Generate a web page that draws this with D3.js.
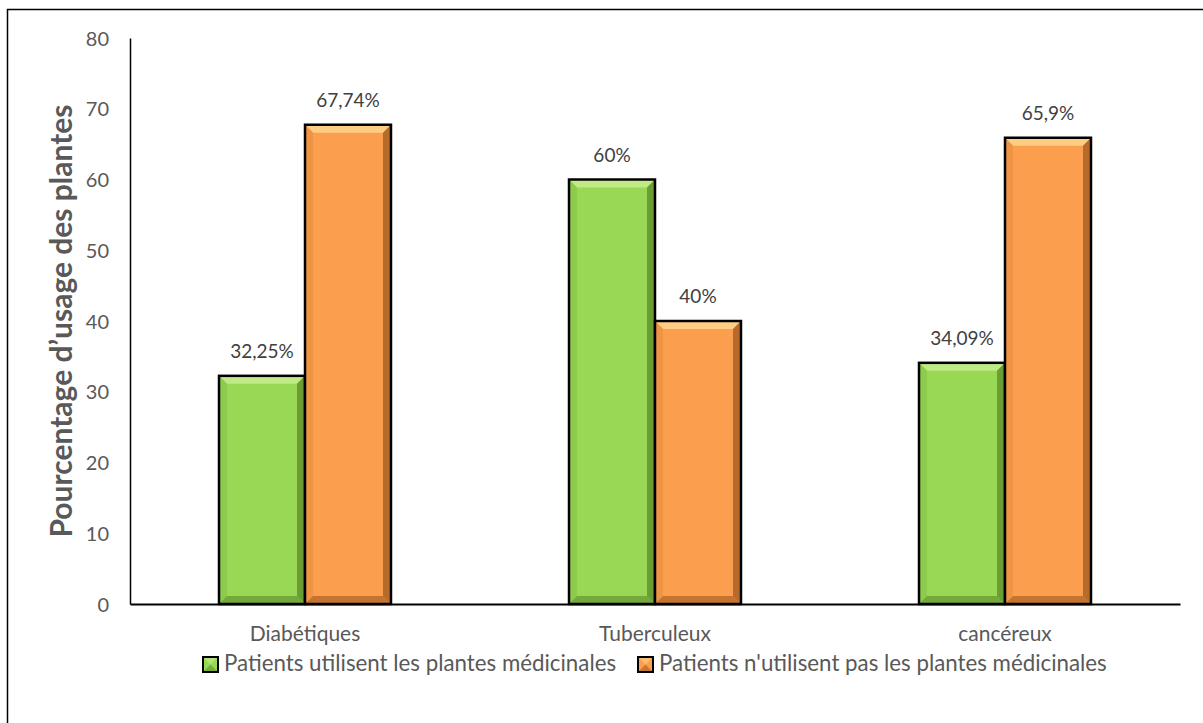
<!DOCTYPE html>
<html><head><meta charset="utf-8">
<script src="https://cdn.jsdelivr.net/npm/d3@7"></script>
<style>body{margin:0;background:#fff}svg{display:block}text{font-family:Lato,"Open Sans",sans-serif}</style>
</head><body>
<svg id="c" width="1203" height="723"></svg>
<script>
const categories = ["Diabétiques", "Tuberculeux", "cancéreux"];
const seriesNames = ["Patients utilisent les plantes médicinales", "Patients n'utilisent pas les plantes médicinales"];
const usersValues = [32.25, 60, 34.09];
const nonUsersValues = [67.74, 40, 65.9];
const usersLabels = ["32,25%", "60%", "34,09%"];
const nonUsersLabels = ["67,74%", "40%", "65,9%"];
const yTicks = [0, 10, 20, 30, 40, 50, 60, 70, 80];
const yTitle = "Pourcentage d’usage des plantes";

(function(){
const svg = d3.select("#c");
svg.append("rect").attr("x", 7.5).attr("y", 9.5).attr("width", 1210).attr("height", 730)
  .attr("fill", "none").attr("stroke", "#000").attr("stroke-width", 1.5);

const pL = 130, pR = 1180, pT = 38, pB = 604;
const x = d3.scaleBand().domain(categories).range([pL, pR]).padding(0);
const xs = d3.scaleBand().domain([0, 1]).range([0, x.bandwidth()]).paddingInner(0).paddingOuter(1.035);
const y = d3.scaleLinear().domain([0, 80]).range([pB, pT]);

const textCol = "#595959";
const yAxis = svg.append("g").attr("transform", `translate(${pL},0)`)
  .call(d3.axisLeft(y).tickValues(yTicks).tickSize(0).tickPadding(0).tickFormat(d3.format("d")));
yAxis.select(".domain").attr("stroke", "#000").attr("stroke-width", 1.5);
yAxis.selectAll("text").attr("font-size", 20).attr("fill", textCol).attr("x", -21).attr("text-anchor", "end").attr("dy", "0.35em");

svg.append("text").attr("transform", `translate(72,${(pT+pB)/2}) rotate(-90)`)
  .attr("text-anchor", "middle").attr("font-size", 30).attr("font-weight", "bold").attr("fill", textCol)
  .text(yTitle);

const palettes = [
  {base: "#98d855", light: "#c3ec8c", dark: "#5f8f2c", mid: "#8ccb4c"},
  {base: "#fb9f4f", light: "#ffd08a", dark: "#a65e20", mid: "#ef9444"}
];

const data = categories.map((c, i) => ({c, vals: [usersValues[i], nonUsersValues[i]], labels: [usersLabels[i], nonUsersLabels[i]]}));
const bevel = 8;
data.forEach(d => {
  d.vals.forEach((v, s) => {
    const x0 = x(d.c) + xs(s), w = xs.bandwidth();
    const y0 = y(v), h = y(0) - y(v);
    const p = palettes[s];
    const g = svg.append("g");
    g.append("rect").attr("x", x0).attr("y", y0).attr("width", w).attr("height", h).attr("fill", p.base);
    const b = Math.min(bevel, h / 2);
    const x1 = x0 + w, y1 = y0 + h;
    g.append("polygon").attr("points", `${x0},${y0} ${x1},${y0} ${x1-b},${y0+b} ${x0+b},${y0+b}`).attr("fill", p.light).attr("opacity", 0.9);
    g.append("polygon").attr("points", `${x0},${y0} ${x0+b},${y0+b} ${x0+b},${y1-b} ${x0},${y1}`).attr("fill", p.mid);
    g.append("polygon").attr("points", `${x1},${y0} ${x1-b},${y0+b} ${x1-b},${y1-b} ${x1},${y1}`).attr("fill", p.dark).attr("opacity", 0.8);
    g.append("polygon").attr("points", `${x0},${y1} ${x0+b},${y1-b} ${x1-b},${y1-b} ${x1},${y1}`).attr("fill", p.dark).attr("opacity", 0.65);
    g.append("rect").attr("x", x0).attr("y", y0).attr("width", w).attr("height", h)
      .attr("fill", "none").attr("stroke", "#000").attr("stroke-width", 2.5);
    svg.append("text").attr("x", x0 + w / 2).attr("y", y0 - 18).attr("text-anchor", "middle")
      .attr("font-size", 19).attr("fill", "#404040").text(d.labels[s]);
  });
});

const xAxis = svg.append("g").attr("transform", `translate(0,${pB})`)
  .call(d3.axisBottom(x).tickSize(0).tickPadding(0).tickSizeOuter(0));
xAxis.select(".domain").attr("stroke", "#000").attr("stroke-width", 2);
xAxis.selectAll("text").attr("font-size", 21).attr("fill", textCol).attr("y", 37).attr("dy", "0");

const legX = [203, 638];
seriesNames.forEach((n, s) => {
  const p = palettes[s];
  const lg = svg.append("g").attr("transform", `translate(${legX[s]},657)`);
  lg.append("rect").attr("width", 15).attr("height", 15).attr("fill", p.base);
  lg.append("polygon").attr("points", "0,0 15,0 7.5,7.5").attr("fill", p.light).attr("opacity", 0.6);
  lg.append("polygon").attr("points", "0,15 15,15 7.5,7.5").attr("fill", p.dark).attr("opacity", 0.6);
  lg.append("rect").attr("width", 15).attr("height", 15).attr("fill", "none").attr("stroke", "#000").attr("stroke-width", 2);
  lg.append("text").attr("x", 21).attr("y", 14).attr("font-size", 22.3).attr("fill", textCol).text(n);
});
})();
</script>
</body></html>
